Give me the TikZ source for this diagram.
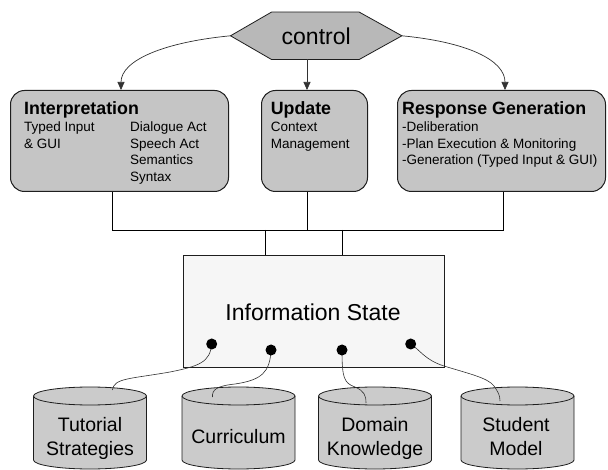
\documentclass[tikz,border=0pt]{standalone}
\usepackage{fontspec}
\setmainfont{Liberation Sans}
\usetikzlibrary{arrows.meta,backgrounds}
\definecolor{boxfill}{RGB}{197,197,197}
\definecolor{hexfill}{RGB}{184,184,184}
\definecolor{infofill}{RGB}{246,246,246}
\definecolor{cylfill}{RGB}{203,203,203}
\definecolor{edgecol}{RGB}{30,30,30}
\definecolor{wirecol}{RGB}{50,50,50}
\tikzset{
  box/.style={draw=edgecol, line width=1pt, fill=boxfill, rounded corners=14pt, inner sep=0pt, anchor=north west},
  titletext/.style={font=\bfseries\fontsize{17.8}{20}\selectfont, anchor=base west, inner sep=0pt},
  subtext/.style={font=\fontsize{13.5}{16}\selectfont, anchor=base west, inner sep=0pt},
  cyltext/.style={font=\fontsize{19.5}{23}\selectfont, anchor=base, inner sep=0pt},
  busline/.style={draw=black, line width=0.9pt},
  arr/.style={draw=wirecol, line width=0.7pt, -{Triangle[length=8pt,width=7pt]}},
  wirecurve/.style={draw=wirecol, line width=0.6pt},
  plug/.style={circle, fill=black, minimum size=11pt, inner sep=0pt},
  dbcyl/.pic={
    \path[fill=cylfill] (-56.5pt,0pt) -- (-56.5pt,-64pt) arc[start angle=180, end angle=360, x radius=56.5pt, y radius=9pt] -- (56.5pt,0pt) -- cycle;
    \draw[draw=edgecol, line width=0.8pt] (-56.5pt,0pt) -- (-56.5pt,-64pt) arc[start angle=180, end angle=360, x radius=56.5pt, y radius=9pt] -- (56.5pt,0pt);
    \draw[draw=edgecol, line width=0.8pt, fill=cylfill] (0pt,0pt) ellipse [x radius=56.5pt, y radius=9pt];
  }
}
\begin{document}
\begin{tikzpicture}[x=1pt,y=-1pt]
\begin{scope}[on background layer]
  \fill[white] (0,0) rectangle (608,470);
\end{scope}
\useasboundingbox (0,0) rectangle (608,470);

% control hexagon
\node[font=\fontsize{23}{27}\selectfont, minimum width=171pt, minimum height=47pt, inner sep=0pt] (control) at (316.2,35.8) {control};
\begin{scope}[on background layer]
  \filldraw[fill=hexfill, draw=edgecol, line width=0.8pt] (control.west) -- ([xshift=41pt]control.north west) -- ([xshift=-42.7pt]control.north east) -- (control.east) -- ([xshift=-42.7pt]control.south east) -- ([xshift=41pt]control.south west) -- cycle;
\end{scope}

% module boxes
\node[box, minimum width=218pt, minimum height=101pt] (interp) at (10,90) {};
\node[box, minimum width=106pt, minimum height=101pt] (upd) at (261,90) {};
\node[box, minimum width=208pt, minimum height=101pt] (resp) at (397,90) {};

\node[titletext] (interpT) at (24,115) {Interpretation};
\node[subtext] (i1) at (24,132) {Typed Input};
\node[subtext] (i2) at (24,148.5) {\& GUI};
\node[subtext] (i3) at (130,132) {Dialogue Act};
\node[subtext] (i4) at (130,148.5) {Speech Act};
\node[subtext] (i5) at (130,165) {Semantics};
\node[subtext] (i6) at (130,181.5) {Syntax};

\node[titletext] (updT) at (270.6,115) {Update};
\node[subtext] (u1) at (270.6,132) {Context};
\node[subtext] (u2) at (270.6,148.5) {Management};

\node[titletext] (respT) at (402,115) {Response Generation};
\node[subtext] (r1) at (402,132) {-Deliberation};
\node[subtext] (r2) at (402,148.5) {-Plan Execution \& Monitoring};
\node[subtext] (r3) at (402,165) {-Generation (Typed Input \& GUI)};

% information state
\node[draw=edgecol, line width=0.9pt, fill=infofill, minimum width=261pt, minimum height=112pt, anchor=north west, inner sep=0pt] (info) at (182.5,255) {};
\node[font=\fontsize{23}{27}\selectfont, anchor=base, inner sep=0pt] (infoT) at (313,321) {Information State};

% arrows from control
\coordinate (aL) at (121,0);
\coordinate (aR) at (505,0);
\coordinate (bM) at (307,230);
\coordinate (bL) at (112,230);
\coordinate (bR) at (503.3,230);
\draw[arr] (control.west) .. controls (165,42) and (121,60) .. (aL |- interp.north);
\draw[arr] (control.east) .. controls (467,42) and (505,60) .. (aR |- resp.north);
\draw[arr] (bM |- control.south) -- (bM |- upd.north);

% bus
\draw[busline] (bL |- interp.south) -- (bL) -- (bR) -- (bR |- resp.south);
\draw[busline] (bM |- upd.south) -- (bM);
\coordinate (j1) at (265.6,230);
\coordinate (j2) at (342,230);
\draw[busline] (j1) -- (j1 |- info.north);
\draw[busline] (j2) -- (j2 |- info.north);

% databases
\pic (cylA) at (90,396) {dbcyl};
\pic (cylB) at (238.5,396) {dbcyl};
\pic (cylC) at (375,396) {dbcyl};
\pic (cylD) at (517.5,396) {dbcyl};
\node[cyltext] (tA1) at (90,431) {Tutorial};
\node[cyltext] (tA2) at (90,455) {Strategies};
\node[cyltext] (tB) at (238.5,443) {Curriculum};
\node[cyltext] (tC1) at (375,431) {Domain};
\node[cyltext] (tC2) at (375,455) {Knowledge};
\node[cyltext] (tD1) at (516,431) {Student};
\node[cyltext] (tD2) at (516,455) {Model};

% plugs and wires
\coordinate (c1) at (211.7,344);
\coordinate (c2) at (271,350);
\coordinate (c3) at (342,350);
\coordinate (c4) at (410.7,344);
\coordinate (eA) at (112.4,390);
\coordinate (eB) at (212.5,397);
\coordinate (eC) at (366,403);
\coordinate (eD) at (500,401);
\draw[wirecurve] (c1) .. controls (210,362) and (200,366) .. (170,372) .. controls (130,379) and (114,378) .. (eA);
\draw[wirecurve] (c2) .. controls (270,372) and (262,380) .. (235,384) .. controls (216,386) and (212,390) .. (eB);
\draw[wirecurve] (c3) .. controls (342,378) and (344,383) .. (355,387) .. controls (364,391) and (366,395) .. (eC);
\draw[wirecurve] (c4) .. controls (420,350) and (425,360) .. (444,366) .. controls (470,374) and (488,378) .. (494,386) .. controls (498,392) and (500,395) .. (eD);
\node[plug] (p1) at (c1) {};
\node[plug] (p2) at (c2) {};
\node[plug] (p3) at (c3) {};
\node[plug] (p4) at (c4) {};
\end{tikzpicture}
\end{document}
